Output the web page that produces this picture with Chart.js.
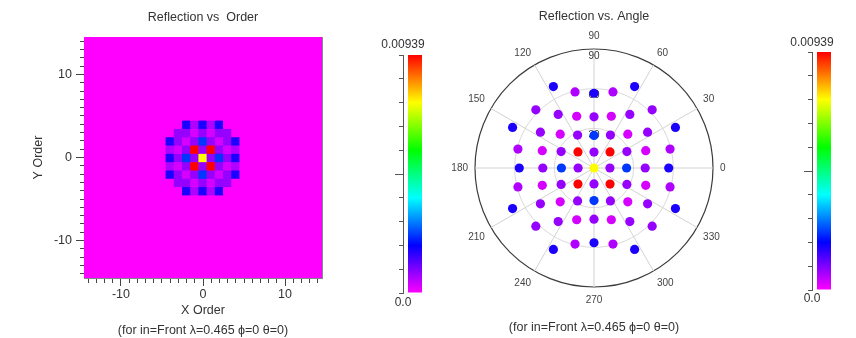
<!DOCTYPE html>
<html>
<head>
<meta charset="utf-8">
<title>Reflection vs Order / Angle</title>
<script src="https://cdn.jsdelivr.net/npm/chart.js@4.4.1/dist/chart.umd.min.js"></script>
<style>
  html, body { margin: 0; padding: 0; background: #ffffff; }
  #wrap { position: relative; width: 856px; height: 338px; overflow: hidden; background: #ffffff; }
  #wrap canvas { position: absolute; top: 0; }
</style>
</head>
<body>
<div id="wrap">
  <canvas id="orderMap" width="406" height="338" style="left:0px"></canvas>
  <canvas id="orderBar" width="80" height="338" style="left:363px"></canvas>
  <canvas id="anglePlot" width="348" height="338" style="left:420px"></canvas>
  <canvas id="angleBar" width="80" height="338" style="left:772px"></canvas>
</div>
<script>
// ---------------------------------------------------------------------------
// Data: reflected diffraction orders (m, n) and their reflection efficiency
// ---------------------------------------------------------------------------
const R_MAX = 0.00939;           // top of the colour scale
const WAVELENGTH = 0.465;        // µm
const PITCH = 2.23;              // µm, grating period in x and y

const ORDER_M = [
  -2, -1, 0, 1, 2,
  -3, -2, -1, 0, 1, 2, 3,
  -4, -3, -2, -1, 0, 1, 2, 3, 4,
  -4, -3, -2, -1, 0, 1, 2, 3, 4,
  -4, -3, -2, -1, 0, 1, 2, 3, 4,
  -4, -3, -2, -1, 0, 1, 2, 3, 4,
  -4, -3, -2, -1, 0, 1, 2, 3, 4,
  -3, -2, -1, 0, 1, 2, 3,
  -2, -1, 0, 1, 2
];
const ORDER_N = [
  4, 4, 4, 4, 4,
  3, 3, 3, 3, 3, 3, 3,
  2, 2, 2, 2, 2, 2, 2, 2, 2,
  1, 1, 1, 1, 1, 1, 1, 1, 1,
  0, 0, 0, 0, 0, 0, 0, 0, 0,
  -1, -1, -1, -1, -1, -1, -1, -1, -1,
  -2, -2, -2, -2, -2, -2, -2, -2, -2,
  -3, -3, -3, -3, -3, -3, -3,
  -4, -4, -4, -4, -4
];
const REFLECTANCE = [
  0.00167, 0.00058, 0.00167, 0.00058, 0.00167,
  0.00077, 0.00077, 0.00031, 0.00077, 0.00031, 0.00077, 0.00077,
  0.00167, 0.00077, 0.00031, 0.00077, 0.00228, 0.00077, 0.00031, 0.00077, 0.00167,
  0.00058, 0.00031, 0.00077, 0.00939, 0.00077, 0.00939, 0.00077, 0.00031, 0.00058,
  0.00167, 0.00077, 0.00228, 0.00077, 0.00751, 0.00077, 0.00228, 0.00077, 0.00167,
  0.00058, 0.00031, 0.00077, 0.00939, 0.00077, 0.00939, 0.00077, 0.00031, 0.00058,
  0.00167, 0.00077, 0.00031, 0.00077, 0.00228, 0.00077, 0.00031, 0.00077, 0.00167,
  0.00077, 0.00077, 0.00031, 0.00077, 0.00031, 0.00077, 0.00077,
  0.00167, 0.00058, 0.00167, 0.00058, 0.00167
];

// Order grid of the map (cells -14 .. 14) and its axis ticks
const GRID_ORDERS = [-14, -13, -12, -11, -10, -9, -8, -7, -6, -5, -4, -3, -2, -1, 0,
                     1, 2, 3, 4, 5, 6, 7, 8, 9, 10, 11, 12, 13, 14];
// Colour bar ticks and end labels
const COLORBAR_TICKS = [0, 0.000939, 0.001878, 0.002817, 0.003756, 0.004695,
                        0.005634, 0.006573, 0.007512, 0.008451, 0.00939];
const COLORBAR_LABELS = ['0.0', '0.00939'];
// Azimuth labels around the polar plot, polar-angle rings
const ANGLE_LABELS = [0, 30, 60, 90, 120, 150, 180, 210, 240, 270, 300, 330];
const THETA_TICKS = [0, 30, 60, 90];

const TITLES = {
  order: 'Reflection vs  Order',
  angle: 'Reflection vs. Angle',
  note: '(for in=Front \u03bb=0.465 \u03d5=0 \u03b8=0)',
  xOrder: 'X Order',
  yOrder: 'Y Order'
};

// ---------------------------------------------------------------------------
// Shared styling
// ---------------------------------------------------------------------------
Chart.defaults.font.family = '"Liberation Sans", Arial, Helvetica, sans-serif';
Chart.defaults.color = '#333333';
const TEXT = '#333333';
const FRAME = '#808a88';
const TICK = '#444444';

// rainbow scale: magenta (0) -> blue -> cyan -> green -> yellow -> red (max)
function reflColor(v) {
  const f = Math.max(0, Math.min(1, v / R_MAX));
  const hue = 300 * (1 - f);
  return 'hsl(' + hue.toFixed(2) + ', 100%, 50%)';
}
const GRADIENT_STOPS = [0, 0.2, 0.4, 0.6, 0.8, 1];
function rainbowFill(ctx) {
  const chart = ctx.chart;
  const area = chart.chartArea;
  if (!area) return 'rgba(0,0,0,0)';
  const g = chart.ctx.createLinearGradient(0, area.bottom, 0, area.top);
  GRADIENT_STOPS.forEach(f => g.addColorStop(f, reflColor(f * R_MAX)));
  return g;
}

const isDecade = c => c.tick && Math.abs(c.tick.value % 10) < 1e-9;
const dashBottom = c => (isDecade(c) ? [] : [4, 20]);
const dashLeft = c => (isDecade(c) ? [] : [0, 4, 4, 20]);

// ---------------------------------------------------------------------------
// Left: reflection map over (X order, Y order)
// ---------------------------------------------------------------------------
const lookup = new Map();
ORDER_M.forEach((m, i) => lookup.set(m + ',' + ORDER_N[i], REFLECTANCE[i]));
const cells = [];
const cellColors = [];
GRID_ORDERS.forEach(n => {
  GRID_ORDERS.forEach(m => {
    const v = lookup.has(m + ',' + n) ? lookup.get(m + ',' + n) : 0;
    cells.push({ x: m, y: [n - 0.5, n + 0.5] });
    cellColors.push(reflColor(v));
  });
});

const setTicks = list => s => { s.ticks = list.map(v => ({ value: v })); };

new Chart(document.getElementById('orderMap'), {
  type: 'bar',
  data: {
    datasets: [{
      data: cells,
      backgroundColor: cellColors,
      borderWidth: 0,
      barPercentage: 1,
      categoryPercentage: 1,
      inflateAmount: 0.5
    }]
  },
  options: {
    responsive: false,
    animation: false,
    events: [],
    layout: { padding: 0 },
    plugins: {
      legend: { display: false },
      tooltip: { enabled: false },
      title: {
        display: true, text: TITLES.order, color: TEXT,
        font: { size: 12.5, weight: 'normal', lineHeight: 1 },
        padding: { top: 11.25, bottom: 13.25 }
      },
      subtitle: {
        display: true, position: 'bottom', text: TITLES.note, color: TEXT,
        font: { size: 12.5, weight: 'normal', lineHeight: 1 },
        padding: { top: 1, bottom: 1.5 }
      }
    },
    scales: {
      x: {
        type: 'linear', position: 'bottom', min: -14.5, max: 14.5, offset: false, z: 1,
        afterBuildTicks: setTicks(GRID_ORDERS),
        afterFit: s => { s.height = 45; },
        ticks: {
          autoSkip: false, maxRotation: 0, minRotation: 0, padding: 1.5, color: TEXT,
          font: { size: 12.5 },
          callback: v => (Math.abs(v % 10) < 1e-9 ? String(v) : '')
        },
        grid: { offset: false, drawOnChartArea: false, tickLength: 8, tickColor: TICK, tickBorderDash: dashBottom },
        border: { display: true, color: FRAME, width: 1 },
        title: { display: true, text: TITLES.xOrder, color: TEXT, font: { size: 12.5 }, padding: { top: 0, bottom: 4.5 } }
      },
      y: {
        type: 'linear', position: 'left', min: -14.5, max: 14.5, z: 1,
        afterBuildTicks: setTicks(GRID_ORDERS),
        afterFit: s => { s.width = 84; },
        ticks: {
          autoSkip: false, padding: 4, color: TEXT, font: { size: 12.5 },
          callback: v => (Math.abs(v % 10) < 1e-9 ? String(v) : '')
        },
        grid: { offset: false, drawOnChartArea: false, tickLength: 8, tickColor: TICK, tickBorderDash: dashLeft },
        border: { display: true, color: FRAME, width: 1 },
        title: { display: true, text: TITLES.yOrder, color: TEXT, font: { size: 12.5 }, padding: { top: 31.5, bottom: 0 } }
      },
      xTop: {
        type: 'linear', position: 'top', min: -14.5, max: 14.5, z: 1,
        afterFit: s => { s.height = 0; },
        ticks: { display: false },
        grid: { drawOnChartArea: false, drawTicks: false },
        border: { display: true, color: FRAME, width: 1 }
      },
      yRight: {
        type: 'linear', position: 'right', min: -14.5, max: 14.5, z: 1,
        afterFit: s => { s.width = 84; },
        ticks: { display: false },
        grid: { drawOnChartArea: false, drawTicks: false },
        border: { display: true, color: FRAME, width: 1 }
      }
    }
  }
});

// ---------------------------------------------------------------------------
// Colour bars
// ---------------------------------------------------------------------------
function makeColorbar(id, titlePad, subPad) {
  return new Chart(document.getElementById(id), {
    type: 'bar',
    data: {
      labels: [''],
      datasets: [{
        data: [R_MAX],
        backgroundColor: rainbowFill,
        borderWidth: 0,
        barPercentage: 14 / 24,
        categoryPercentage: 1
      }]
    },
    options: {
      responsive: false,
      animation: false,
      events: [],
      layout: { padding: { left: 16, right: 16, top: 0, bottom: 0 } },
      plugins: {
        legend: { display: false },
        tooltip: { enabled: false },
        title: {
          display: true, text: COLORBAR_LABELS[1], color: TEXT,
          font: { size: 12, weight: 'normal', lineHeight: 1 }, padding: titlePad
        },
        subtitle: {
          display: true, position: 'bottom', text: COLORBAR_LABELS[0], color: TEXT,
          font: { size: 12, weight: 'normal', lineHeight: 1 }, padding: subPad
        }
      },
      scales: {
        x: { display: false },
        y: {
          type: 'linear', position: 'left', min: 0, max: R_MAX,
          afterBuildTicks: setTicks(COLORBAR_TICKS),
          afterFit: s => { s.width = 24; },
          ticks: { display: false },
          grid: {
            drawOnChartArea: false, tickLength: 8, tickColor: '#555555',
            tickBorderDash: c => (c.index === 5 ? [] : [0, 4, 4, 20])
          },
          border: { display: true, color: '#555555', width: 1 }
        }
      }
    }
  });
}
makeColorbar('orderBar', { top: 39, bottom: 4 }, { top: 4, bottom: 29 });
makeColorbar('angleBar', { top: 37, bottom: 3 }, { top: 3, bottom: 33 });

// ---------------------------------------------------------------------------
// Right: the same orders placed by azimuth (phi) and polar angle (theta)
// ---------------------------------------------------------------------------
const AZ_STEP = 0.25;                         // angular resolution of the polar grid
const AZ_COUNT = 360 / AZ_STEP;
const AZIMUTH_GRID = Array.from({ length: AZ_COUNT }, (_, i) => ((90 - i * AZ_STEP) % 360 + 360) % 360);
const gridIndex = phi => Math.round((((90 - phi) % 360) + 360) % 360 / AZ_STEP) % AZ_COUNT;

const layers = [];
ORDER_M.forEach((m, k) => {
  const n = ORDER_N[k];
  const sinTheta = (WAVELENGTH / PITCH) * Math.hypot(m, n);   // grating equation, normal incidence
  const theta = Math.asin(sinTheta) * 180 / Math.PI;
  const phi = Math.atan2(n, m) * 180 / Math.PI;
  const idx = gridIndex(phi);
  let layer = layers.find(L => L.data[idx] === null);
  if (!layer) {
    layer = { data: new Array(AZ_COUNT).fill(null), colors: new Array(AZ_COUNT).fill('rgba(0,0,0,0)') };
    layers.push(layer);
  }
  layer.data[idx] = theta;
  layer.colors[idx] = reflColor(REFLECTANCE[k]);
});

const isLabelled = i => ANGLE_LABELS.includes(AZIMUTH_GRID[i]);

new Chart(document.getElementById('anglePlot'), {
  type: 'radar',
  data: {
    labels: AZIMUTH_GRID,
    datasets: layers.map(L => ({
      data: L.data,
      pointBackgroundColor: L.colors,
      pointBorderColor: L.colors,
      pointBorderWidth: 0,
      pointRadius: 4.6,
      pointHoverRadius: 4.6,
      showLine: false,
      fill: false,
      borderWidth: 0
    }))
  },
  options: {
    responsive: false,
    animation: false,
    events: [],
    layout: { padding: 0 },
    plugins: {
      legend: { display: false },
      tooltip: { enabled: false },
      title: {
        display: true, text: TITLES.angle, color: TEXT,
        font: { size: 12.5, weight: 'normal', lineHeight: 1 },
        padding: { top: 10.25, bottom: 7.25 }
      },
      subtitle: {
        display: true, position: 'bottom', text: TITLES.note, color: TEXT,
        font: { size: 12.5, weight: 'normal', lineHeight: 1 },
        padding: { top: 15.75, bottom: 3.75 }
      }
    },
    scales: {
      r: {
        min: 0, max: 90, startAngle: 0,
        afterBuildTicks: setTicks(THETA_TICKS),
        ticks: {
          showLabelBackdrop: false, color: TEXT,
          font: { size: 10, lineHeight: 0.7 },
          callback: v => (v === 0 ? '' : ['', String(v)])
        },
        grid: {
          circular: true,
          color: c => (c.tick && c.tick.value === 90 ? '#3c3c3c' : '#d9d9d9'),
          lineWidth: c => (c.tick && c.tick.value === 90 ? 1.2 : 1)
        },
        angleLines: {
          display: true,
          color: c => (isLabelled(c.index) ? '#d2d2d2' : 'rgba(0,0,0,0)'),
          lineWidth: c => (isLabelled(c.index) ? 1 : 0)
        },
        pointLabels: {
          display: true, padding: 0, color: '#444444', font: { size: 10 },
          callback: (label, index) => (isLabelled(index) ? String(AZIMUTH_GRID[index]) : '')
        }
      }
    }
  }
});
</script>
</body>
</html>
